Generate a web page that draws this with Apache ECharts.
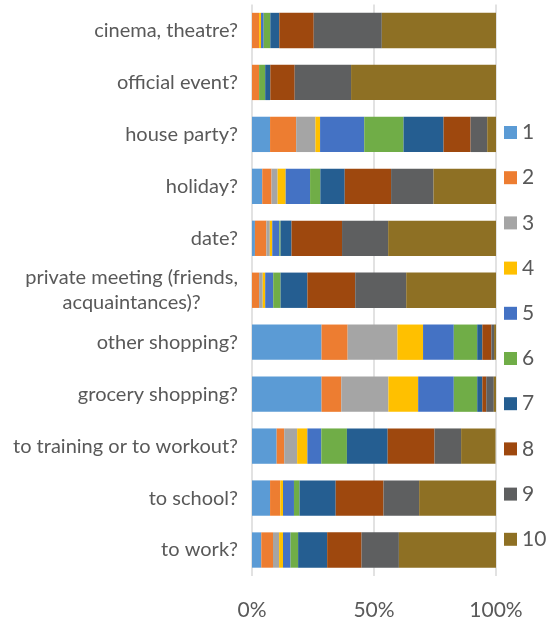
<!DOCTYPE html>
<html>
<head>
<meta charset="utf-8">
<script src="https://cdn.jsdelivr.net/npm/echarts@6/dist/echarts.min.js"></script>
<style>
html,body{margin:0;padding:0;background:#fff;}
#chart{width:554px;height:621px;}
</style>
</head>
<body>
<div id="chart"></div>
<script>
const categories = [
  "cinema, theatre?",
  "official event?",
  "house party?",
  "holiday?",
  "date?",
  "private meeting (friends,\nacquaintances)?",
  "other shopping?",
  "grocery shopping?",
  "to training or to workout?",
  "to school?",
  "to work?"
];
const seriesNames = ["1","2","3","4","5","6","7","8","9","10"];
// values in %, one array per series, in category order
const s1  = [0,   0,   7.4, 4.2, 1.2, 0,   28.5, 28.5, 10.1, 7.4, 3.8];
const s2  = [2.9, 2.9, 10.7,3.8, 4.7, 2.9, 10.7, 8.1,  3.1,  4.2, 4.8];
const s3  = [0,   0,   7.9, 2.5, 1.4, 1.5, 20.4, 19.3, 5.3,  0,   2.5];
const s4  = [0.8, 0,   1.9, 3.3, 1.0, 1.0, 10.5, 12.2, 4.2,  1.1, 1.6];
const s5  = [1.1, 0,   18.1,10.0,2.9, 3.3, 12.6, 14.6, 5.7,  4.5, 3.1];
const s6  = [2.7, 2.5, 16.1,4.2, 0.5, 3.0, 9.6,  9.6,  10.5, 2.3, 3.1];
const s7  = [3.7, 2.1, 16.4,10.0,4.5, 11.0,2.1,  2.1,  16.7, 14.8,11.9];
const s8  = [14.1,10.0,11.1,19.0,20.7,19.6,3.7,  1.6,  19.2, 19.6,14.1];
const s9  = [27.9,23.1,6.8, 17.4,18.9,20.9,1.1,  3.1,  10.9, 14.6,15.3];
const s10 = [46.8,59.4,3.6, 25.6,44.2,36.8,1.0,  1.0,  14.1, 31.5,39.8];
const seriesValues = [s1,s2,s3,s4,s5,s6,s7,s8,s9,s10];
const colors = ["#5B9BD5","#ED7D31","#A5A5A5","#FFC000","#4472C4","#70AD47","#255E91","#9E480E","#5E5F60","#8E7024"];
const xTicks = {min:0, max:100, interval:50};

const chart = echarts.init(document.getElementById('chart'), null, {renderer:'canvas'});
const FONT = 'Lato, "Open Sans", sans-serif';
chart.setOption({
  animation:false,
  backgroundColor:'#fff',
  color: colors,
  textStyle:{fontFamily:FONT},
  grid:{left:252, right:58, top:4.5, bottom:41.5, containLabel:false},
  legend:{
    orient:'vertical',
    left:499, top:117,
    padding:5,
    icon:'rect',
    itemWidth:13, itemHeight:13,
    itemGap:24.2,
    data: seriesNames,
    textStyle:{fontSize:21, lineHeight:21, color:'#595959', fontFamily:FONT}
  },
  xAxis:{
    type:'value',
    min:xTicks.min, max:xTicks.max, interval:xTicks.interval,
    axisLine:{show:false}, axisTick:{show:false},
    splitLine:{show:true, lineStyle:{color:'#d9d9d9', width:1.5}},
    axisLabel:{formatter:'{value}%', fontSize:21, color:'#595959', margin:24, fontFamily:FONT}
  },
  yAxis:{
    type:'category',
    inverse:true,
    data:categories,
    axisLine:{show:false}, axisTick:{show:false},
    axisLabel:{
      fontSize:20, color:'#595959', margin:14, fontFamily:FONT,
      formatter: v => v.split('\n').map(l => '{a|' + l + '}').join('\n'),
      rich:{a:{align:'center', fontSize:20, color:'#595959', fontFamily:FONT, lineHeight:25}}
    }
  },
  series: seriesNames.map((n,i)=>({
    name:n, type:'bar', stack:'total',
    barCategoryGap:'32%',
    data: seriesValues[i]
  }))
});
</script>
</body>
</html>
